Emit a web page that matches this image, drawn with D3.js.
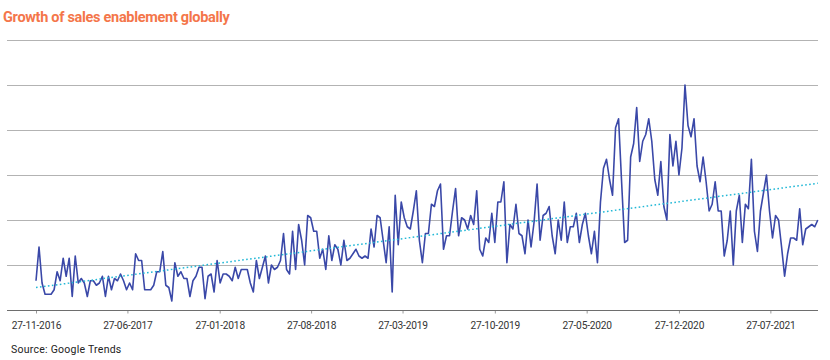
<!DOCTYPE html>
<html>
<head>
<meta charset="utf-8">
<script src="https://cdn.jsdelivr.net/npm/d3@7"></script>
<style>
  html, body { margin: 0; padding: 0; background: #ffffff; }
  svg { display: block; }
</style>
</head>
<body>
<div id="chart"></div>
<script>
// ---- Data (Google Trends weekly interest) ----
const startWeek = "2016-11-27";
const interest = [
  13,28,12,7,7,7,9,17,13,23,15,23,6,24,12,14,12,6,13,13,
  11,12,15,6,15,9,14,13,16,13,9,12,9,25,22,22,9,9,9,11,
  17,17,26,11,10,4,21,15,17,14,14,6,13,15,19,19,5,15,16,8,
  22,12,16,16,15,13,19,14,18,18,18,12,8,22,14,19,24,12,20,18,
  19,22,34,18,16,35,18,38,31,20,42,41,35,35,23,27,18,33,22,29,
  27,20,31,22,23,25,27,24,23,24,23,36,28,42,41,31,21,37,8,51,
  29,48,41,37,36,44,53,31,21,34,34,47,46,53,56,27,33,33,44,54,
  33,41,40,36,42,38,53,27,24,32,30,43,30,48,48,57,21,38,36,47,
  34,33,25,40,28,39,56,31,42,43,46,33,25,40,31,48,30,37,37,43,
  30,38,43,33,25,35,21,48,63,67,58,51,81,85,57,30,31,68,74,90,
  66,75,78,85,75,58,51,66,46,40,78,64,75,60,72,100,82,77,85,64,
  57,68,57,44,47,57,44,44,24,31,44,20,44,51,30,47,45,67,35,26,
  44,52,60,44,32,42,40,28,15,25,32,32,31,45,29,36,37,38,37,40
];
const tickLabels = ["27-11-2016","27-06-2017","27-01-2018","27-08-2018","27-03-2019",
                    "27-10-2019","27-05-2020","27-12-2020","27-07-2021"];
const gridValues = [0, 20, 40, 60, 80, 100, 120];
const titleText = "Growth of sales enablement globally";
const sourceText = "Source: Google Trends";

// ---- Setup ----
const W = 830, H = 360;
const svg = d3.select("#chart").append("svg").attr("width", W).attr("height", H);

const parseDay = d3.timeParse("%Y-%m-%d");
const parseTick = d3.timeParse("%d-%m-%Y");
const start = parseDay(startWeek);
const series = interest.map((v, i) => ({ date: d3.timeWeek.offset(start, i), value: v }));

const plotLeft = 7, plotRight = 818;
const x = d3.scaleTime()
  .domain([series[0].date, series[series.length - 1].date])
  .range([36, 817.8]);
const y = d3.scaleLinear().domain([0, 120]).range([310, 40]);

// Title
svg.append("text")
  .attr("x", 3).attr("y", 21.5)
  .attr("font-family", "Roboto, 'Open Sans', sans-serif")
  .attr("font-weight", 700)
  .attr("font-size", 14.5)
  .attr("letter-spacing", -0.3)
  .attr("fill", "#f4764a")
  .text(titleText);

// Gridlines
svg.append("g").selectAll("line")
  .data(gridValues.filter(v => v > 0))
  .join("line")
  .attr("x1", plotLeft).attr("x2", plotRight)
  .attr("y1", d => Math.round(y(d)) + 0.5).attr("y2", d => Math.round(y(d)) + 0.5)
  .attr("stroke", "#b3b3b3").attr("stroke-width", 1);

// X axis
const tickDates = tickLabels.map(parseTick);
const axis = d3.axisBottom(x)
  .tickValues(tickDates)
  .tickFormat((d, i) => tickLabels[i])
  .tickSize(3).tickSizeOuter(0).tickPadding(8);
const gx = svg.append("g").attr("transform", `translate(0,${y(0) + 0.5})`).call(axis);
gx.select(".domain").remove();
gx.append("line").attr("x1", plotLeft).attr("x2", plotRight).attr("y1", 0).attr("y2", 0)
  .attr("stroke", "#6e6e6e").attr("stroke-width", 1);
gx.selectAll(".tick line").attr("stroke", "#9a9a9a");
gx.selectAll(".tick text")
  .attr("font-family", "Roboto, 'Open Sans', sans-serif")
  .attr("font-size", 10.2)
  .attr("letter-spacing", -0.2)
  .attr("fill", "#333333");

// Data line
const line = d3.line().x(d => x(d.date)).y(d => y(d.value)).curve(d3.curveLinear);
svg.append("path")
  .datum(series)
  .attr("fill", "none")
  .attr("stroke", "#3a48a8")
  .attr("stroke-width", 1.6)
  .attr("stroke-linejoin", "round")
  .attr("d", line);

// Linear trend (least squares)
const n = series.length;
const xs = d3.range(n);
const mx = d3.mean(xs), my = d3.mean(interest);
const slope = d3.sum(xs, i => (i - mx) * (interest[i] - my)) / d3.sum(xs, i => (i - mx) * (i - mx));
const icpt = my - slope * mx;
const trend = [0, n - 1].map(i => ({ date: series[i].date, value: icpt + slope * i }));
svg.append("path")
  .datum(trend)
  .attr("fill", "none")
  .attr("stroke", "#22b8d6")
  .attr("stroke-width", 1.5)
  .attr("stroke-dasharray", "1.6,2.4")
  .attr("d", line);

// Source
svg.append("text")
  .attr("x", 11).attr("y", 353)
  .attr("font-family", "Roboto, 'Open Sans', sans-serif")
  .attr("font-size", 10.5)
  .attr("letter-spacing", 0.25)
  .attr("fill", "#222222")
  .text(sourceText);
</script>
</body>
</html>
